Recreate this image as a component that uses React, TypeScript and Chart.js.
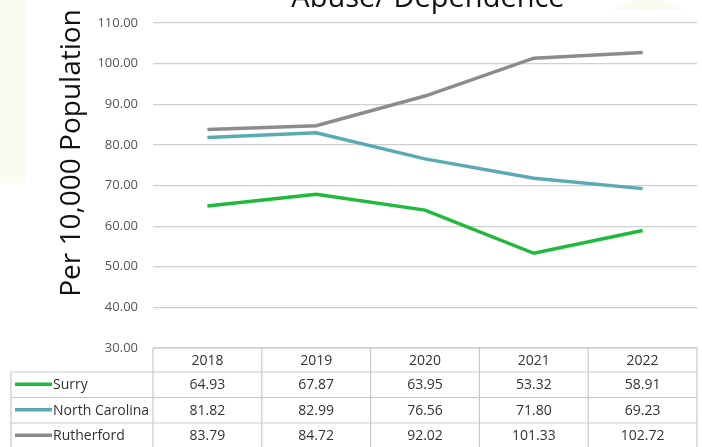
import { useEffect, useRef } from "react";
import { Chart, registerables } from "chart.js";

Chart.register(...registerables);

const categories = ["2018", "2019", "2020", "2021", "2022"];
const surry = [64.93, 67.87, 63.95, 53.32, 58.91];
const northCarolina = [81.82, 82.99, 76.56, 71.8, 69.23];
const rutherford = [83.79, 84.72, 92.02, 101.33, 102.72];
const seriesNames = ["Surry", "North Carolina", "Rutherford"];
const seriesColors = ["#1fb93d", "#5aaab1", "#8c8c8c"];
const yMin = 30;
const yMax = 110;
const yStep = 10;
const titleText = "Abuse/ Dependence";
const yAxisTitle = "Per 10,000 Population";

const seriesValues = [surry, northCarolina, rutherford];

const decorPlugin = {
  id: "decor",
  beforeDraw(chart: any) {
    const ctx = chart.ctx;
    ctx.save();
    ctx.fillStyle = "#ffffff";
    ctx.fillRect(0, 0, chart.width, chart.height);
    ctx.fillStyle = "#fbfbf1";
    ctx.fillRect(0, 0, 25, 183);
    ctx.beginPath();
    ctx.moveTo(613, 10);
    ctx.quadraticCurveTo(648, -14, 682, 10);
    ctx.closePath();
    ctx.fill();
    ctx.restore();
  },
  afterDraw(chart: any) {
    const ctx = chart.ctx;
    const area = chart.chartArea;
    const xs = chart.scales.x;
    ctx.save();
    // title
    ctx.fillStyle = "#111111";
    ctx.font = "29px 'Open Sans'";
    ctx.textAlign = "center";
    ctx.textBaseline = "alphabetic";
    ctx.fillText(titleText, 428, 7);
    // y axis title
    ctx.save();
    ctx.translate(80, 153);
    ctx.rotate(-Math.PI / 2);
    ctx.font = "28px 'Open Sans'";
    ctx.fillStyle = "#111111";
    ctx.fillText(yAxisTitle, 0, 0);
    ctx.restore();

    // data table
    const colW = xs.getPixelForValue(1) - xs.getPixelForValue(0);
    const legendLeft = 11;
    const top = area.bottom;
    const headerH = 24;
    const rowH = 25.5;
    const rowTops = [top + headerH, top + headerH + rowH, top + headerH + 2 * rowH];
    const bottom = top + headerH + 3 * rowH;
    ctx.strokeStyle = "#c9c9c9";
    ctx.lineWidth = 1.2;
    ctx.beginPath();
    ctx.moveTo(area.left, top);
    ctx.lineTo(area.right, top);
    for (let r = 0; r < 4; r++) {
      const y = r < 3 ? rowTops[r] : bottom;
      ctx.moveTo(legendLeft, y);
      ctx.lineTo(area.right, y);
    }
    ctx.moveTo(legendLeft, rowTops[0]);
    ctx.lineTo(legendLeft, bottom);
    for (let i = 0; i <= categories.length; i++) {
      const x = i < categories.length ? xs.getPixelForValue(i) - colW / 2 : area.right;
      ctx.moveTo(x, top);
      ctx.lineTo(x, bottom);
    }
    ctx.stroke();

    ctx.font = "14px 'Open Sans'";
    ctx.fillStyle = "#333333";
    ctx.textBaseline = "middle";
    ctx.textAlign = "center";
    categories.forEach((c, i) => {
      ctx.fillText(c, xs.getPixelForValue(i), top + headerH / 2 + 1);
    });
    seriesValues.forEach((vals, r) => {
      const cy = rowTops[r] + rowH / 2 + 0.5;
      ctx.textAlign = "center";
      ctx.fillStyle = "#333333";
      vals.forEach((v, i) => {
        ctx.fillText(v.toFixed(2), xs.getPixelForValue(i), cy);
      });
      ctx.strokeStyle = seriesColors[r];
      ctx.lineWidth = 3.5;
      ctx.beginPath();
      ctx.moveTo(15, cy - 1);
      ctx.lineTo(52, cy - 1);
      ctx.stroke();
      ctx.textAlign = "left";
      ctx.fillStyle = "#333333";
      ctx.fillText(seriesNames[r], 53, cy);
    });
    ctx.restore();
  },
};

export default function App() {
  const ref = useRef<HTMLCanvasElement>(null);
  useEffect(() => {
    if (!ref.current) return;
    const chart = new Chart(ref.current, {
      type: "line",
      data: {
        labels: categories,
        datasets: seriesValues.map((vals, i) => ({
          label: seriesNames[i],
          data: vals,
          borderColor: seriesColors[i],
          backgroundColor: seriesColors[i],
          borderWidth: 3.5,
          pointRadius: 0,
          tension: 0,
          fill: false,
        })),
      },
      options: {
        responsive: false,
        animation: false,
        layout: { padding: { left: 0, top: 23, right: 5, bottom: 99 } },
        plugins: { legend: { display: false }, title: { display: false }, tooltip: { enabled: false } },
        scales: {
          x: { type: "category", offset: true, display: false },
          y: {
            min: yMin,
            max: yMax,
            ticks: {
              stepSize: yStep,
              padding: 15,
              color: "#555555",
              font: { family: "'Open Sans'", size: 13 },
              callback: (v: any) => Number(v).toFixed(2),
            },
            grid: { color: "#d0d0d0", lineWidth: 1.2, drawTicks: false },
            border: { display: false },
            afterFit: (scale: any) => {
              scale.width = 153;
            },
          },
        },
      },
      plugins: [decorPlugin],
    });
    return () => chart.destroy();
  }, []);
  return (
    <div style={{ position: "absolute", left: 0, top: 0, width: 702, height: 447 }}>
      <canvas ref={ref} width={702} height={447} style={{ display: "block" }} />
    </div>
  );
}
